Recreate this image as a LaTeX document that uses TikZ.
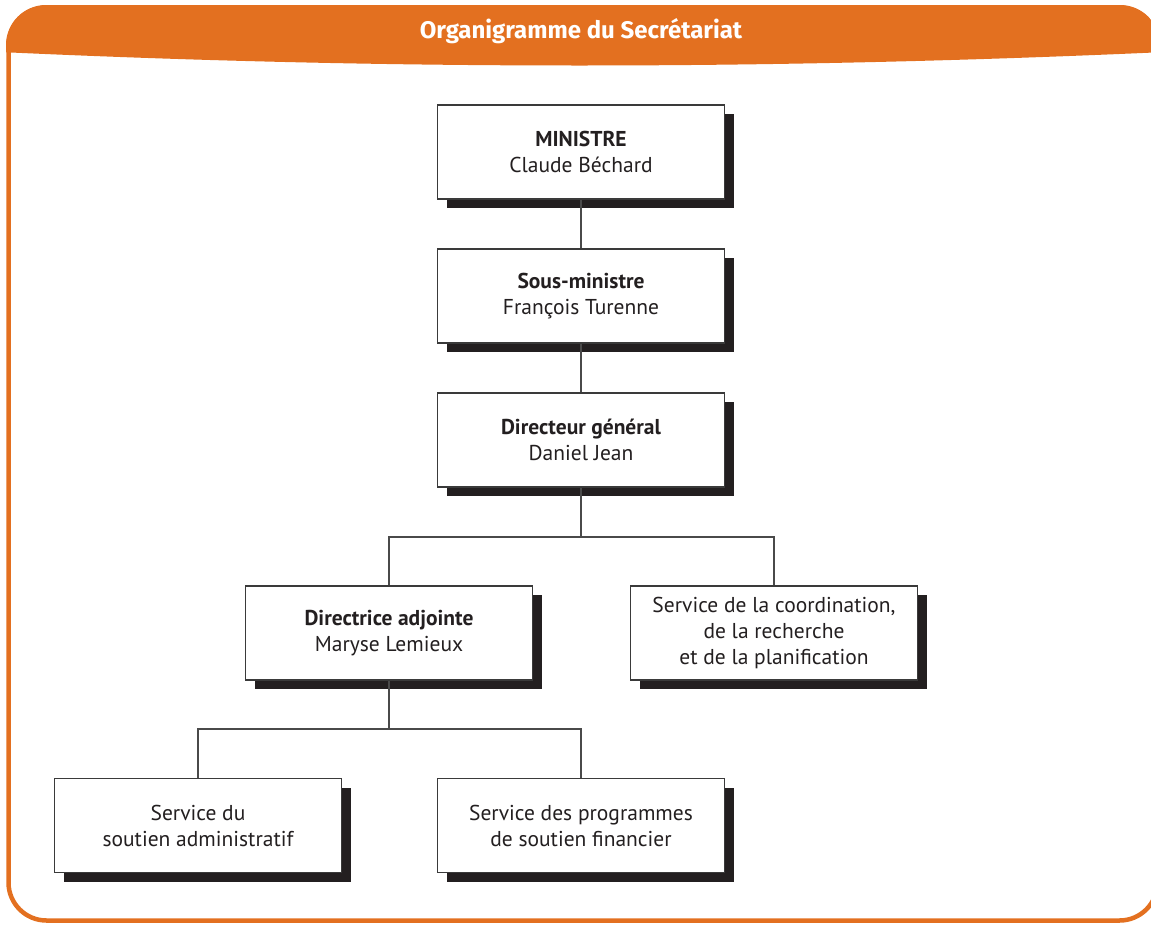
\documentclass[tikz,border=0pt]{standalone}
\usepackage{fontspec}
\setmainfont{PT Sans}
\newfontfamily\headfont{Fira Sans}
\usetikzlibrary{shadows}
\definecolor{orgorange}{HTML}{E37020}
\definecolor{shadowc}{HTML}{231F20}
\definecolor{boxline}{HTML}{3A3A3A}
\definecolor{txt}{HTML}{231F20}
\definecolor{conn}{HTML}{4A4A4A}
\tikzset{
  box/.style={draw=boxline, line width=1.2pt, fill=white,
    minimum width=287pt, minimum height=94pt, inner sep=0pt,
    align=center, text=txt, font=\fontsize{21.5}{26}\selectfont,
    drop shadow={shadow xshift=9pt, shadow yshift=-9pt, fill=shadowc, opacity=1}},
  conline/.style={draw=conn, line width=1.5pt},
  headtext/.style={text=white, font=\headfont\bfseries\fontsize{24}{28}\selectfont}
}
\begin{document}
\begin{tikzpicture}[x=1pt,y=-1pt]
\useasboundingbox (0,0) rectangle (1151,924);
% header
\begin{scope}
  \clip[rounded corners=40pt] (6,5) rectangle (1160,923);
  \fill[orgorange] (0,0) -- (1165,0) -- (1165,52) .. controls (768,70) and (389,70) .. (0,52) -- cycle;
\end{scope}
\draw[orgorange, line width=4.5pt, rounded corners=38pt] (8.5,7.5) rectangle (1157.5,920.5);
\node[headtext] (title) at (581,31) {Organigramme du Secrétariat};
% boxes
\node[box] (m)  at (581,152) {\textbf{MINISTRE}\\Claude Béchard};
\node[box] (sm) at (581,296) {\textbf{Sous-ministre}\\François Turenne};
\node[box] (dg) at (581,440) {\textbf{Directeur général}\\Daniel Jean};
\node[box] (da) at (389,633) {\textbf{Directrice adjointe}\\Maryse Lemieux};
\node[box] (sc) at (774,633) {Service de la coordination,\\de la recherche\\et de la planification};
\node[box] (sa) at (198,825.5) {Service du\\soutien administratif};
\node[box] (sp) at (581,825.5) {Service des programmes\\de soutien financier};
% connectors
\coordinate (j1) at (581,537);
\coordinate (j2) at (389,729);
\draw[conline] (m.south) -- (sm.north);
\draw[conline] (sm.south) -- (dg.north);
\draw[conline] (dg.south) -- (j1);
\draw[conline] (da.north) -- (da.north |- j1) -- (sc.north |- j1) -- (sc.north);
\draw[conline] (da.south) -- (j2);
\draw[conline] (sa.north) -- (sa.north |- j2) -- (sp.north |- j2) -- (sp.north);
\end{tikzpicture}
\end{document}
